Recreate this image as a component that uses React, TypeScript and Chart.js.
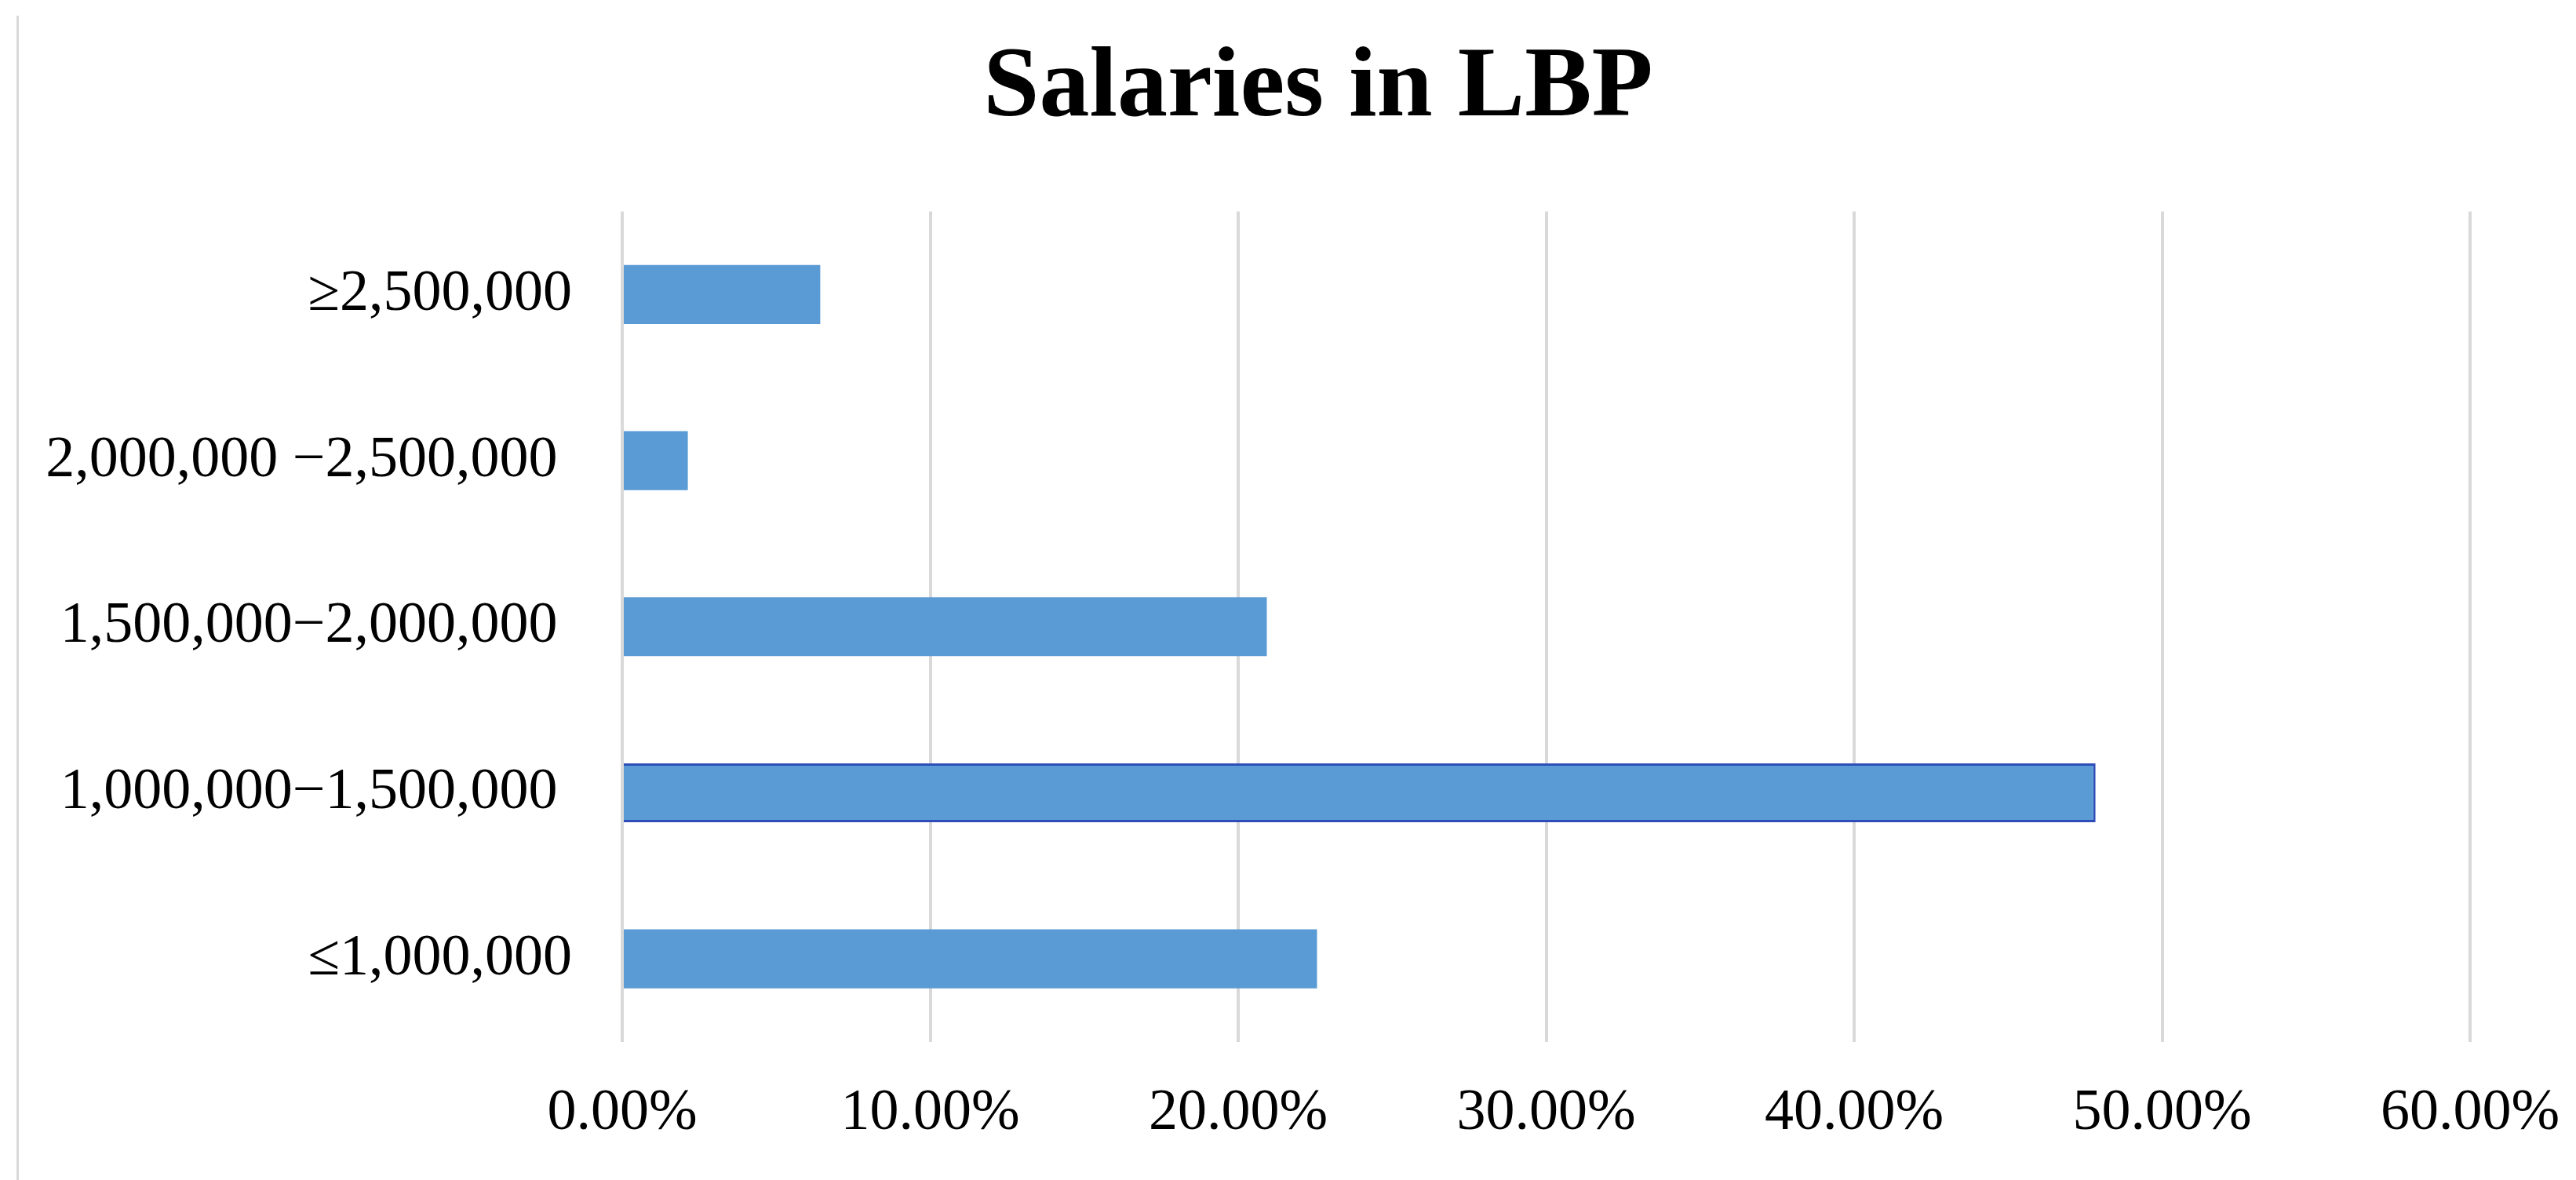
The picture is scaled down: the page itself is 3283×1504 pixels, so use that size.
import React, { useEffect, useRef } from "react";
import { Chart, registerables } from "chart.js";

Chart.register(...registerables);

const categories = [
  "≥2,500,000",
  "2,000,000 −2,500,000 ",
  "1,500,000−2,000,000 ",
  "1,000,000−1,500,000 ",
  "≤1,000,000",
];
const shares = [6.43, 2.13, 20.93, 47.84, 22.56];
const xTickValues = [0, 10, 20, 30, 40, 50, 60];
const titleText = "Salaries in LBP";

const W = 3283;
const H = 1504;

const frameLine = {
  id: "frameLine",
  beforeDraw(chart: any) {
    const ctx = chart.ctx;
    ctx.save();
    ctx.strokeStyle = "#d9d9d9";
    ctx.lineWidth = 3;
    ctx.beginPath();
    ctx.moveTo(22.5, 20);
    ctx.lineTo(22.5, H);
    ctx.stroke();
    ctx.restore();
  },
};

// shift the title box so it is centred where the reference has it
const titleShift = {
  id: "titleShift",
  afterLayout(chart: any) {
    const tb = chart.titleBlock;
    if (tb) {
      const target = 1680;
      const center = (tb.left + tb.right) / 2;
      const d = target - center;
      tb.left += d;
      tb.right += d;
    }
  },
};

export default function App() {
  const ref = useRef<HTMLCanvasElement | null>(null);
  useEffect(() => {
    document.body.style.margin = "0";
    const canvas = ref.current!;
    const chart = new Chart(canvas, {
      type: "bar",
      data: {
        labels: categories,
        datasets: [
          {
            data: shares,
            backgroundColor: "#5B9BD5",
            borderColor: ["#5B9BD5", "#5B9BD5", "#5B9BD5", "#2E4DB8", "#5B9BD5"],
            borderWidth: [0, 0, 0, 3, 0],
            borderSkipped: "start",
            barPercentage: 0.355,
            categoryPercentage: 1,
          },
        ],
      },
      plugins: [frameLine, titleShift],
      options: {
        indexAxis: "y",
        animation: false,
        responsive: false,
        maintainAspectRatio: false,
        layout: { padding: { left: 0, right: 135, top: 0, bottom: 0 } },
        plugins: {
          legend: { display: false },
          tooltip: { enabled: false },
          title: {
            display: true,
            text: titleText,
            color: "#000",
            font: { family: "'Liberation Serif', 'Times New Roman', serif", size: 128, weight: "bold" },
            padding: { top: 37, bottom: 79 },
          },
        },
        scales: {
          x: {
            min: 0,
            max: 60,
            afterFit(scale: any) {
              scale.height = 176;
              scale.paddingLeft = 0;
              scale.paddingRight = 0;
            },
            afterBuildTicks(scale: any) {
              scale.ticks = xTickValues.map((v) => ({ value: v }));
            },
            ticks: {
              color: "#000",
              padding: 47,
              font: { family: "'Liberation Serif', 'Times New Roman', serif", size: 74 },
              callback: (v: any) => Number(v).toFixed(2) + "%",
            },
            grid: { color: "#d9d9d9", lineWidth: 4, drawTicks: false },
            border: { display: false },
          },
          y: {
            afterFit(scale: any) {
              scale.width = 793;
            },
            ticks: {
              color: "#000",
              padding: 64,
              font: { family: "'Liberation Serif', 'Times New Roman', serif", size: 74 },
            },
            grid: { display: false, drawTicks: false },
            border: { display: false },
          },
        },
      },
    });
    return () => chart.destroy();
  }, []);
  return <canvas ref={ref} width={W} height={H} style={{ display: "block", width: W, height: H }} />;
}
